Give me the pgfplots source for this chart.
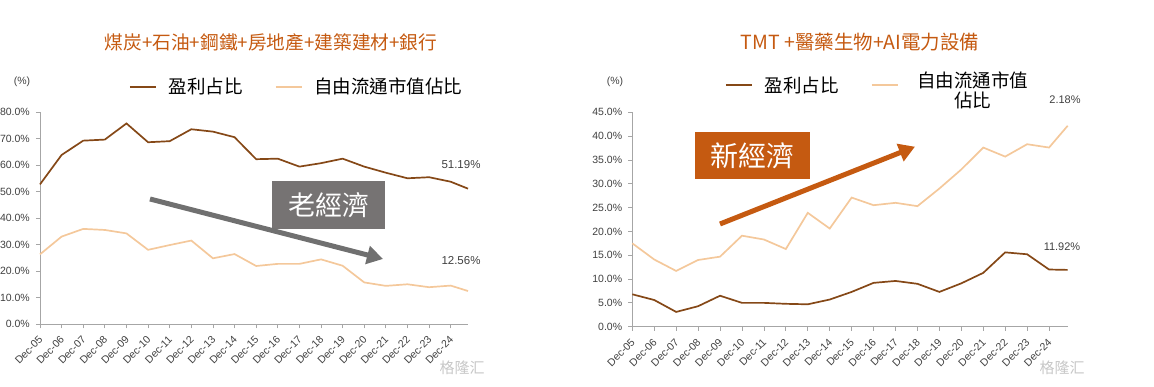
\documentclass[border=0pt]{standalone}
\usepackage{fontspec}
\setmainfont{Liberation Sans}
\newfontfamily\cjk{Noto Sans CJK TC}
\newfontfamily\cjksc{Noto Sans CJK SC}
\usepackage{pgfplots}
\usepackage{pgfplotstable}
\pgfplotsset{compat=1.18}
\usetikzlibrary{arrows.meta}
\definecolor{profit}{RGB}{133,72,23}
\definecolor{lightline}{RGB}{244,200,155}
\definecolor{ttl}{RGB}{197,90,17}
\definecolor{grayarrow}{RGB}{112,112,112}
\definecolor{boxgray}{RGB}{118,115,115}
\definecolor{ticktext}{RGB}{64,64,64}
\definecolor{axisgray}{RGB}{166,166,166}

\pgfplotstableread{
x profit share
0 52.8 26.4
1 63.9 33.1
2 69.3 36.0
3 69.7 35.6
4 75.8 34.3
5 68.7 28.1
6 69.1 29.9
7 73.6 31.6
8 72.7 24.9
9 70.6 26.5
10 62.3 22.0
11 62.5 22.8
12 59.5 22.8
13 60.8 24.5
14 62.5 22.1
15 59.5 15.8
16 57.2 14.5
17 55.1 15.1
18 55.5 14.0
19 53.8 14.6
19.8 51.19 12.56
}\oldtab

\pgfplotstableread{
x profit share
0 6.8 17.5
1 5.6 14.1
2 3.1 11.7
3 4.3 14.0
4 6.5 14.7
5 5.0 19.1
6 5.0 18.3
7 4.8 16.3
8 4.7 23.9
9 5.7 20.6
10 7.3 27.1
11 9.2 25.5
12 9.6 26.0
13 9.0 25.3
14 7.3 29.0
15 9.1 33.0
16 11.3 37.6
17 15.6 35.7
18 15.2 38.3
19 12.0 37.6
19.85 11.92 42.18
}\newtab

\pgfplotsset{
  panel/.style={
    scale only axis,
    clip=false,
    axis x line*=bottom,
    axis y line*=left,
    axis line style={axisgray, line width=0.8pt},
    tick style={axisgray, line width=0.8pt},
    tick align=outside,
    major tick length=4pt,
    xmin=0,
    xtick={0,...,19},
    xticklabels={Dec-05,Dec-06,Dec-07,Dec-08,Dec-09,Dec-10,Dec-11,Dec-12,Dec-13,Dec-14,Dec-15,Dec-16,Dec-17,Dec-18,Dec-19,Dec-20,Dec-21,Dec-22,Dec-23,Dec-24},
    xticklabel style={yshift=-9pt, xshift=1.5pt, rotate=45, anchor=east, font=\fontsize{10.5}{12}\selectfont, text=ticktext, inner sep=1pt},
    yticklabel style={xshift=-4pt, font=\fontsize{10.5}{12}\selectfont, text=ticktext, inner sep=2pt},
    legend columns=2,
    legend image code/.code={\draw[#1, line width=2pt] (0pt,0pt) -- (26pt,0pt); \path (36pt,0pt);},
    legend style={draw=none, fill=none, anchor=west,
      font=\cjk\fontsize{18.5}{23}\selectfont,
      /tikz/every even column/.append style={column sep=30pt},
      /tikz/every odd column/.append style={column sep=0pt}},
  }
}

\begin{document}
\begin{tikzpicture}
\useasboundingbox (0pt,0pt) rectangle (1154pt,387pt);

% ---------- left panel ----------
\begin{axis}[panel,
  at={(40pt,62.7pt)}, anchor=south west,
  width=428pt, height=212pt,
  xmax=19.8, ymin=0, ymax=80,
  ytick={0,10,20,30,40,50,60,70,80},
  yticklabels={0.0\%,10.0\%,20.0\%,30.0\%,40.0\%,50.0\%,60.0\%,70.0\%,80.0\%},
  legend style={at={(0.2,1.12)}},
]
\addplot[profit, line width=1.7pt] table[x=x, y=profit] {\oldtab};
\addlegendentry{盈利占比}
\addplot[lightline, line width=1.7pt] table[x=x, y=share] {\oldtab};
\addlegendentry{自由流通市值佔比}
\end{axis}

% ---------- right panel ----------
\begin{axis}[panel,
  at={(632.3pt,60.3pt)}, anchor=south west,
  width=435.4pt, height=214.4pt,
  xmax=19.85, ymin=0, ymax=45,
  ytick={0,5,10,15,20,25,30,35,40,45},
  yticklabels={0.0\%,5.0\%,10.0\%,15.0\%,20.0\%,25.0\%,30.0\%,35.0\%,40.0\%,45.0\%},
  legend style={at={(0.205,1.125)}},
]
\addplot[profit, line width=1.7pt] table[x=x, y=profit] {\newtab};
\addlegendentry{盈利占比}
\addplot[lightline, line width=1.7pt] table[x=x, y=share] {\newtab};
\addlegendentry{\hspace*{7pt}\begin{tabular}{@{}c@{}}自由流通市值\\[-3pt]佔比\end{tabular}}
\end{axis}

% titles
\node[text=ttl, font=\cjk\fontsize{18.7}{22}\selectfont] at (271pt,345pt) {煤炭+石油+鋼鐵+房地產+建築建材+銀行};
\node[text=ttl, font=\cjk\fontsize{19.5}{22}\selectfont] at (860pt,345pt) {TMT +醫藥生物+AI電力設備};

% unit labels
\node[text=ticktext, font=\fontsize{10.5}{12}\selectfont] at (22pt,305pt) {(\%)};
\node[text=ticktext, font=\fontsize{10.5}{12}\selectfont] at (615pt,305pt) {(\%)};

% end labels
\node[text=ticktext, font=\fontsize{11.5}{13}\selectfont] at (461pt,222pt) {51.19\%};
\node[text=ticktext, font=\fontsize{11.5}{13}\selectfont] at (461pt,126pt) {12.56\%};
\node[text=ticktext, font=\fontsize{11}{13}\selectfont] at (1065pt,287pt) {2.18\%};
\node[text=ticktext, font=\fontsize{11}{13}\selectfont] at (1062pt,140pt) {11.92\%};

% annotations
\node[fill=boxgray, text=white, minimum width=113pt, minimum height=48pt, inner sep=0pt,
      font=\cjk\fontsize{27}{30}\selectfont] at (328.5pt,182pt) {老經濟};
\draw[grayarrow, line width=5pt, -{Triangle[length=16pt,width=18pt]}] (150pt,188pt) -- (383pt,128pt);

\node[fill=ttl, text=white, minimum width=115pt, minimum height=47pt, inner sep=0pt,
      font=\cjk\fontsize{28}{30}\selectfont] at (752.5pt,231.5pt) {新經濟};
\draw[ttl, line width=5pt, -{Triangle[length=16pt,width=18pt]}] (720pt,163pt) -- (915pt,240.3pt);

% watermarks
\node[text=black!22, font=\cjksc\fontsize{15}{17}\selectfont] at (462pt,19pt) {格隆汇};
\node[text=black!22, font=\cjksc\fontsize{15}{17}\selectfont] at (1062pt,19pt) {格隆汇};
\end{tikzpicture}
\end{document}
